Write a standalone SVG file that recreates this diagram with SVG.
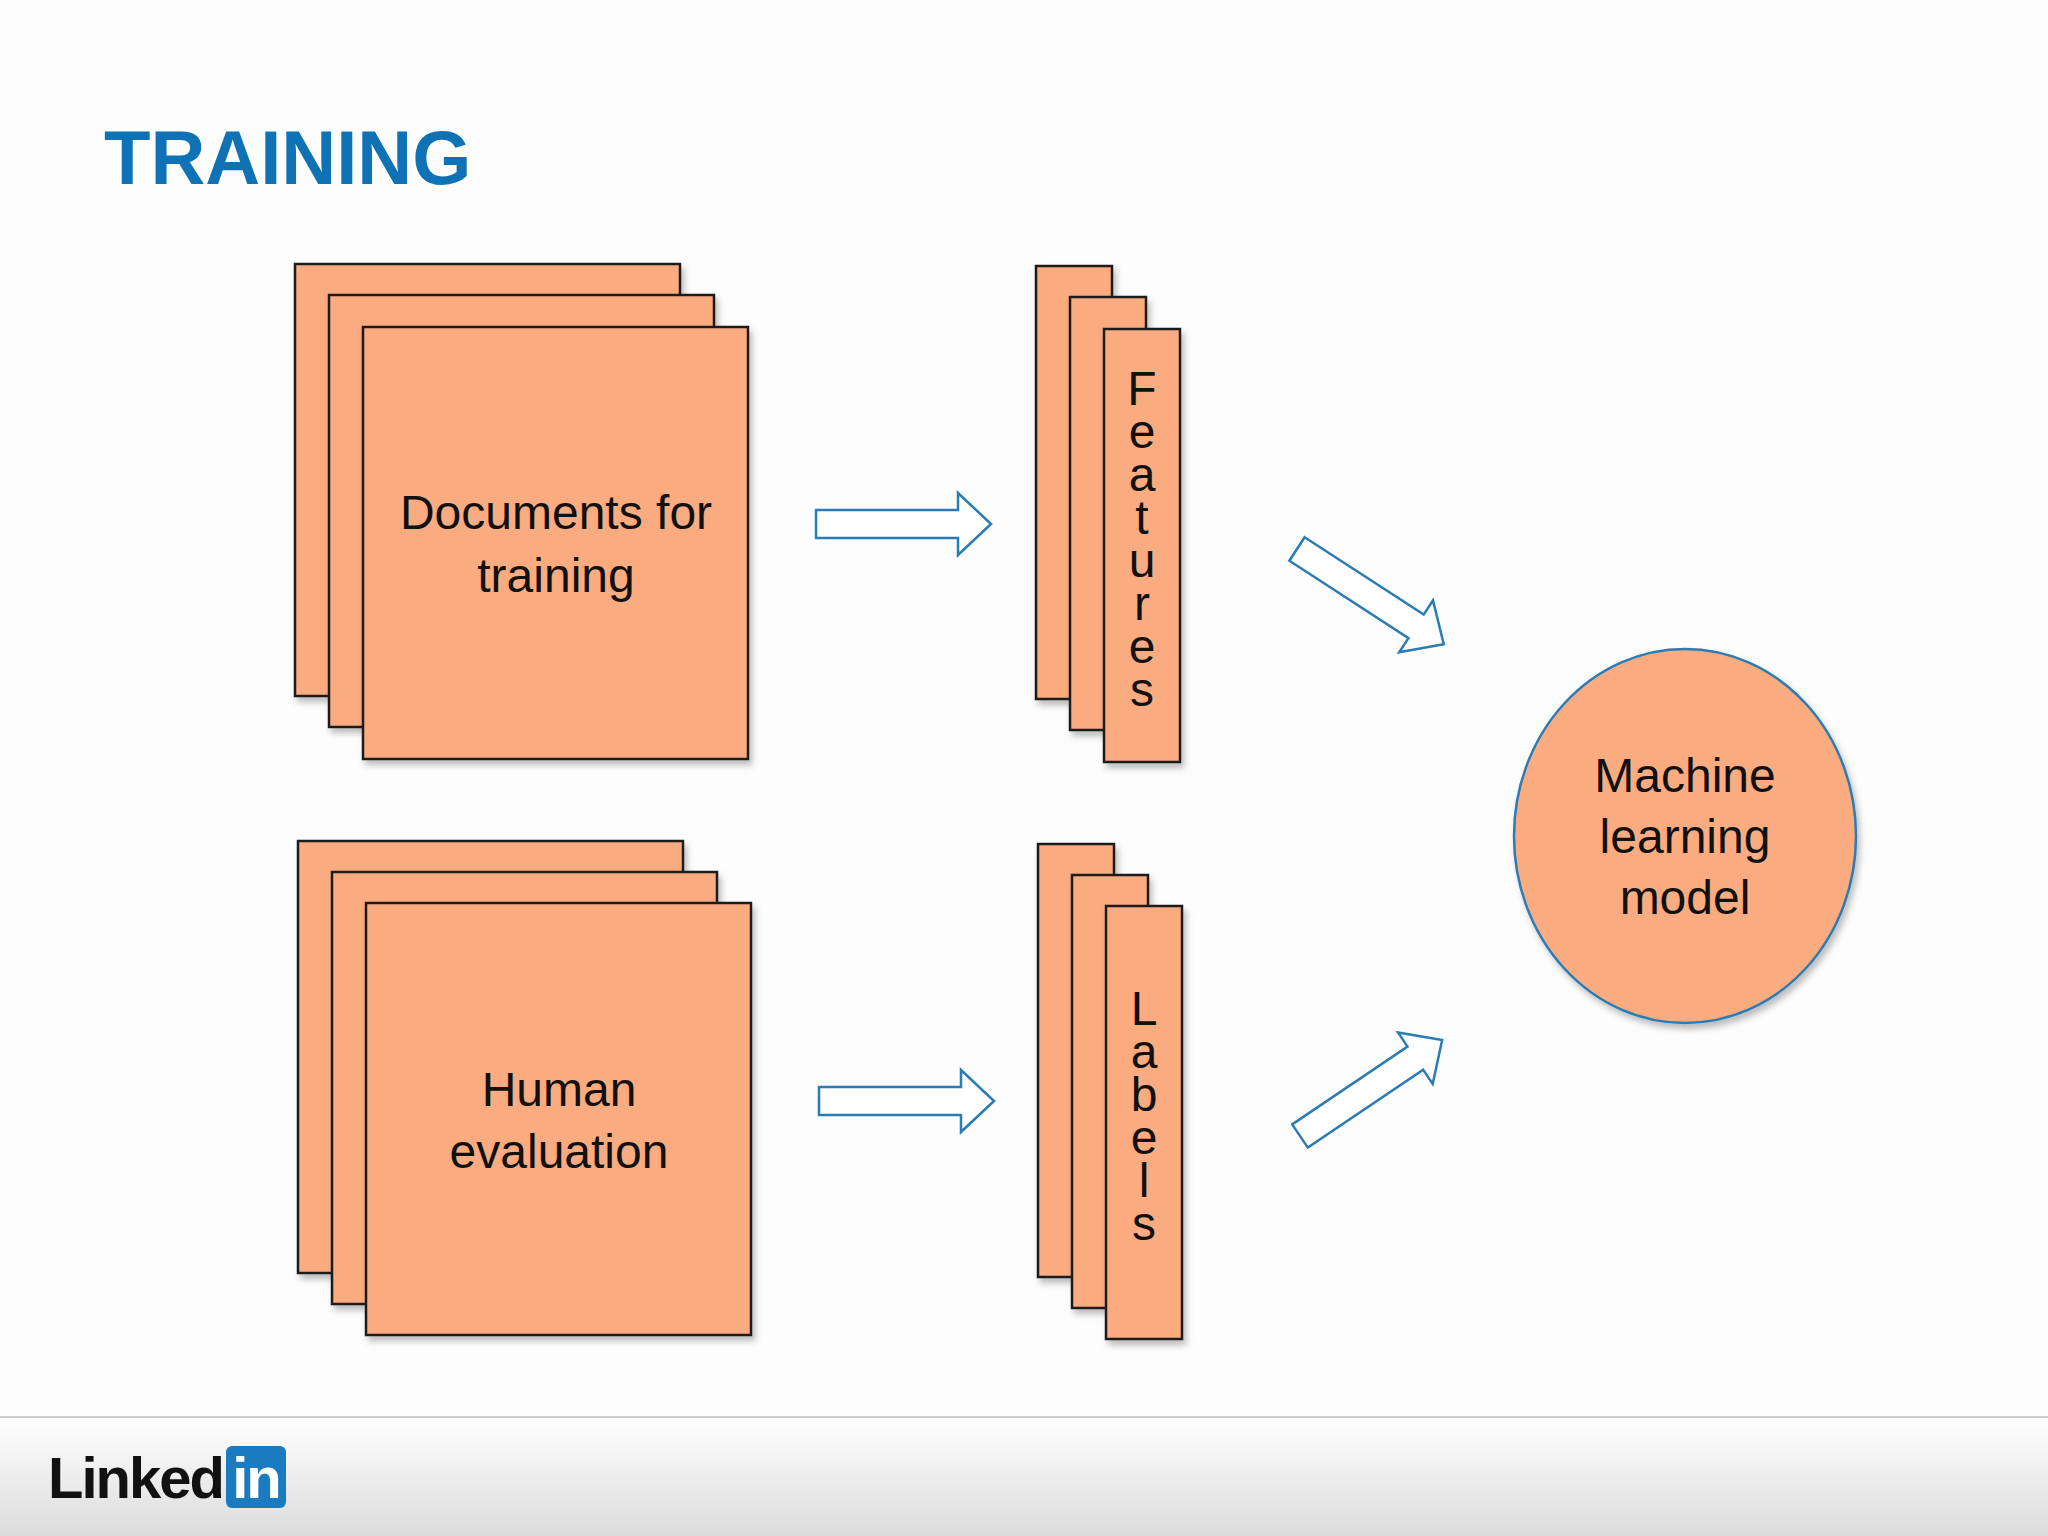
<svg xmlns="http://www.w3.org/2000/svg" width="2048" height="1536" viewBox="0 0 2048 1536">
<defs>
<linearGradient id="foot" x1="0" y1="0" x2="0" y2="1"><stop offset="0" stop-color="#ffffff"/><stop offset="1" stop-color="#dcdcdc"/></linearGradient>
<filter id="sh" x="-10%" y="-10%" width="130%" height="130%"><feDropShadow dx="3" dy="5" stdDeviation="3" flood-color="#000" flood-opacity="0.25"/></filter>
<path id="arr" d="M0,-14 H142 V-31 L175,0 L142,31 V14 H0 Z"/>
</defs>
<style>
.b{fill:#fbab80;stroke:#1a1a1a;stroke-width:2.5;filter:url(#sh)}
.t{font-family:"Liberation Sans",Arial,sans-serif;font-size:48px;fill:#111;text-anchor:middle}
.a{fill:#fff;stroke:#2b7bb4;stroke-width:2.5}
</style>
<rect width="2048" height="1536" fill="#fdfdfd"/>
<rect x="0" y="1417" width="2048" height="119" fill="url(#foot)"/>
<line x1="0" y1="1417" x2="2048" y2="1417" stroke="#d0d0d0" stroke-width="2"/>
<text x="104" y="184" font-family="Liberation Sans,Arial,sans-serif" font-weight="bold" font-size="76" fill="#0e72b5">TRAINING</text>
<g id="docs">
<rect class="b" x="295" y="264" width="385" height="432"/>
<rect class="b" x="329" y="295" width="385" height="432"/>
<rect class="b" x="363" y="327" width="385" height="432"/>
<text class="t" x="556" y="529">Documents for</text>
<text class="t" x="556" y="592">training</text>
</g>
<g id="human">
<rect class="b" x="298" y="841" width="385" height="432"/>
<rect class="b" x="332" y="872" width="385" height="432"/>
<rect class="b" x="366" y="903" width="385" height="432"/>
<text class="t" x="559" y="1106">Human</text>
<text class="t" x="559" y="1168">evaluation</text>
</g>
<g id="features">
<rect class="b" x="1036" y="266" width="76" height="433"/>
<rect class="b" x="1070" y="297" width="76" height="433"/>
<rect class="b" x="1104" y="329" width="76" height="433"/>
<g class="t">
<text x="1142" y="405">F</text><text x="1142" y="448">e</text><text x="1142" y="491">a</text><text x="1142" y="534">t</text><text x="1142" y="577">u</text><text x="1142" y="620">r</text><text x="1142" y="663">e</text><text x="1142" y="706">s</text>
</g>
</g>
<g id="labels">
<rect class="b" x="1038" y="844" width="76" height="433"/>
<rect class="b" x="1072" y="875" width="76" height="433"/>
<rect class="b" x="1106" y="906" width="76" height="433"/>
<g class="t">
<text x="1144" y="1025">L</text><text x="1144" y="1068">a</text><text x="1144" y="1111">b</text><text x="1144" y="1154">e</text><text x="1144" y="1197">l</text><text x="1144" y="1240">s</text>
</g>
</g>
<g id="model">
<ellipse cx="1685" cy="836" rx="171" ry="187" fill="#fbab80" stroke="#2b7bb4" stroke-width="2.5" filter="url(#sh)"/>
<text class="t" x="1685" y="792">Machine</text>
<text class="t" x="1685" y="853">learning</text>
<text class="t" x="1685" y="914">model</text>
</g>
<g id="connectors">
<use href="#arr" class="a" transform="translate(816,524)"/>
<use href="#arr" class="a" transform="translate(819,1101)"/>
<use href="#arr" class="a" transform="translate(1297,549) rotate(33) scale(1.0,1)"/>
<use href="#arr" class="a" transform="translate(1300,1136) rotate(-34) scale(0.98,1)"/>
</g>
<g id="logo">
<text x="48" y="1498" font-family="Liberation Sans,Arial,sans-serif" font-weight="bold" font-size="58" fill="#111" letter-spacing="-2">Linked</text>
<rect x="226" y="1446" width="60" height="62" rx="6" fill="#1a7bc1"/>
<text x="256" y="1498" font-family="Liberation Sans,Arial,sans-serif" font-weight="bold" font-size="58" fill="#fff" text-anchor="middle" letter-spacing="-2">in</text>
</g>
</svg>
